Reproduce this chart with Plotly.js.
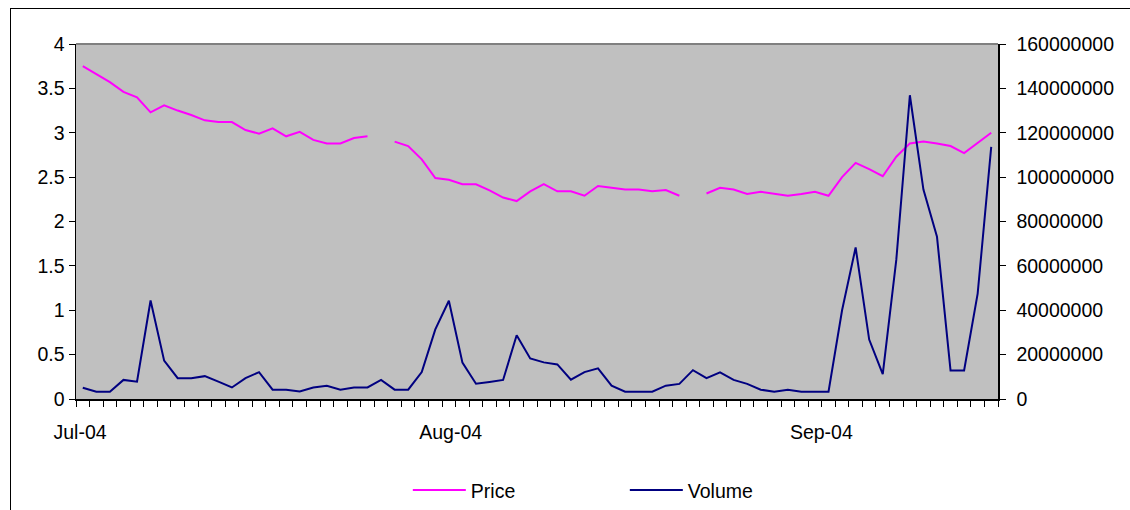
<!DOCTYPE html>
<html><head><meta charset="utf-8">
<script src="https://cdn.plot.ly/plotly-3.0.1.min.js"></script>
<style>
html,body{margin:0;padding:0;background:#fff;}
#wrap{position:relative;width:1130px;height:510px;overflow:hidden;background:#fff;}
#chart{position:absolute;left:0;top:0;width:1130px;height:510px;}
#frame{position:absolute;left:10px;top:8px;width:1200px;height:600px;border-left:1px solid #000;border-top:1px solid #000;pointer-events:none;z-index:5;}
</style></head><body>
<div id="wrap"><div id="chart"></div><div id="frame"></div></div>
<script>
// Month labels and their positions along the day axis (in day-index units)
const monthLabels = ['Jul-04', 'Aug-04', 'Sep-04'];
const monthPos = [-0.2, 27.13, 54.47];

// Daily price (left axis); null = no value (gap in line)
const price = [
  3.75, 3.66, 3.57, 3.46, 3.40, 3.23, 3.31, 3.25, 3.20, 3.14,
  3.12, 3.12, 3.03, 2.99, 3.05, 2.96, 3.01, 2.92, 2.88, 2.88,
  2.94, 2.96, null, 2.90, 2.85, 2.70, 2.49, 2.47, 2.42, 2.42,
  2.35, 2.27, 2.23, 2.34, 2.42, 2.34, 2.34, 2.29, 2.40, 2.38,
  2.36, 2.36, 2.34, 2.355, 2.29, null, 2.315, 2.38, 2.36, 2.31,
  2.335, 2.31, 2.29, 2.31, 2.335, 2.29, 2.50, 2.66, 2.59, 2.51,
  2.73, 2.88, 2.90, 2.88, 2.85, 2.77, 2.89, 3.00
];

// Daily volume (right axis)
const volume = [
  5100000, 3300000, 3300000, 8600000, 7800000, 44400000, 17300000, 9400000, 9400000, 10300000,
  7800000, 5200000, 9400000, 12100000, 4200000, 4200000, 3400000, 5200000, 6000000, 4200000,
  5200000, 5200000, 8600000, 4200000, 4200000, 12100000, 31400000, 44300000, 16400000, 6900000,
  7700000, 8600000, 28700000, 18300000, 16500000, 15600000, 8700000, 12100000, 13800000, 6000000,
  3300000, 3300000, 3300000, 6000000, 6800000, 13000000, 9400000, 12000000, 8600000, 6800000,
  4200000, 3300000, 4200000, 3300000, 3300000, 3300000, 40000000, 68300000, 26800000, 11200000,
  62800000, 136900000, 94400000, 73100000, 12900000, 12900000, 47500000, 113600000
];

const dayIndex = price.map((_, i) => i);
const boundaries = [];
for (let i = -1; i < price.length; i++) boundaries.push(i + 0.5);

const font = {family: 'Liberation Sans, Arial, sans-serif', size: 19.5, color: '#000'};

const traces = [
  {x: dayIndex, y: price, name: 'Price', type: 'scatter', mode: 'lines',
   line: {color: '#FF00FF', width: 2}, connectgaps: false, xaxis: 'x', yaxis: 'y', hoverinfo: 'skip'},
  {x: dayIndex, y: volume, name: 'Volume', type: 'scatter', mode: 'lines',
   line: {color: '#000080', width: 2}, xaxis: 'x', yaxis: 'y2', hoverinfo: 'skip'}
];

const nDays = price.length;
const layout = {
  width: 1130, height: 510,
  margin: {l: 76, r: 131.5, t: 44, b: 111.3, pad: 0, autoexpand: false},
  paper_bgcolor: 'rgba(0,0,0,0)',
  plot_bgcolor: '#C0C0C0',
  font: font,
  showlegend: true,
  legend: {orientation: 'h', x: 0.3599, xanchor: 'left', y: -0.2574, yanchor: 'middle',
           font: font, itemwidth: 53, entrywidth: 149, entrywidthmode: 'pixels',
           bgcolor: 'rgba(0,0,0,0)', traceorder: 'normal'},
  xaxis: {
    range: [-0.5, nDays - 0.5], showgrid: false, zeroline: false,
    showline: true, linecolor: '#000', linewidth: 1.5,
    tickmode: 'array', tickvals: monthPos, ticktext: monthLabels, ticks: '',
    ticklabelstandoff: 15, tickfont: font,
    minor: {tickmode: 'array', tickvals: boundaries, ticks: 'outside', ticklen: 6, tickcolor: '#000', tickwidth: 1, showgrid: false},
    fixedrange: true
  },
  xaxis2: {
    overlaying: 'x', anchor: 'y', range: [-0.5, nDays - 0.5], showgrid: false, zeroline: false,
    showline: false, tickmode: 'array', tickvals: boundaries, ticks: 'inside', ticklen: 5,
    tickcolor: '#000', tickwidth: 1, showticklabels: false, fixedrange: true
  },
  yaxis: {
    range: [0, 4], dtick: 0.5, tick0: 0, showgrid: false, zeroline: false,
    showline: true, linecolor: '#000', linewidth: 1.5,
    ticks: 'outside', ticklen: 6, tickcolor: '#000', tickwidth: 1,
    tickfont: font, fixedrange: true
  },
  yaxis2: {
    overlaying: 'y', side: 'right', anchor: 'x', range: [0, 160000000], dtick: 20000000, tick0: 0,
    tickformat: 'd', showgrid: false, zeroline: false,
    showline: true, linecolor: '#000', linewidth: 1.5,
    ticks: 'outside', ticklen: 6, tickcolor: '#000', tickwidth: 1,
    ticklabelstandoff: 7, tickfont: font, fixedrange: true
  },
  yaxis3: {
    overlaying: 'y', side: 'right', anchor: 'x', range: [0, 160000000], dtick: 20000000, tick0: 0,
    showgrid: false, zeroline: false, showline: false,
    ticks: 'inside', ticklen: 6, tickcolor: '#000', tickwidth: 1,
    showticklabels: false, fixedrange: true
  },
  shapes: [
    {type: 'line', xref: 'paper', yref: 'paper', x0: 0, x1: 1, y0: 1, y1: 1,
     line: {color: '#808080', width: 2}, layer: 'below'}
  ]
};

Plotly.newPlot('chart', traces, layout, {staticPlot: true, displayModeBar: false});
</script>
</body></html>
